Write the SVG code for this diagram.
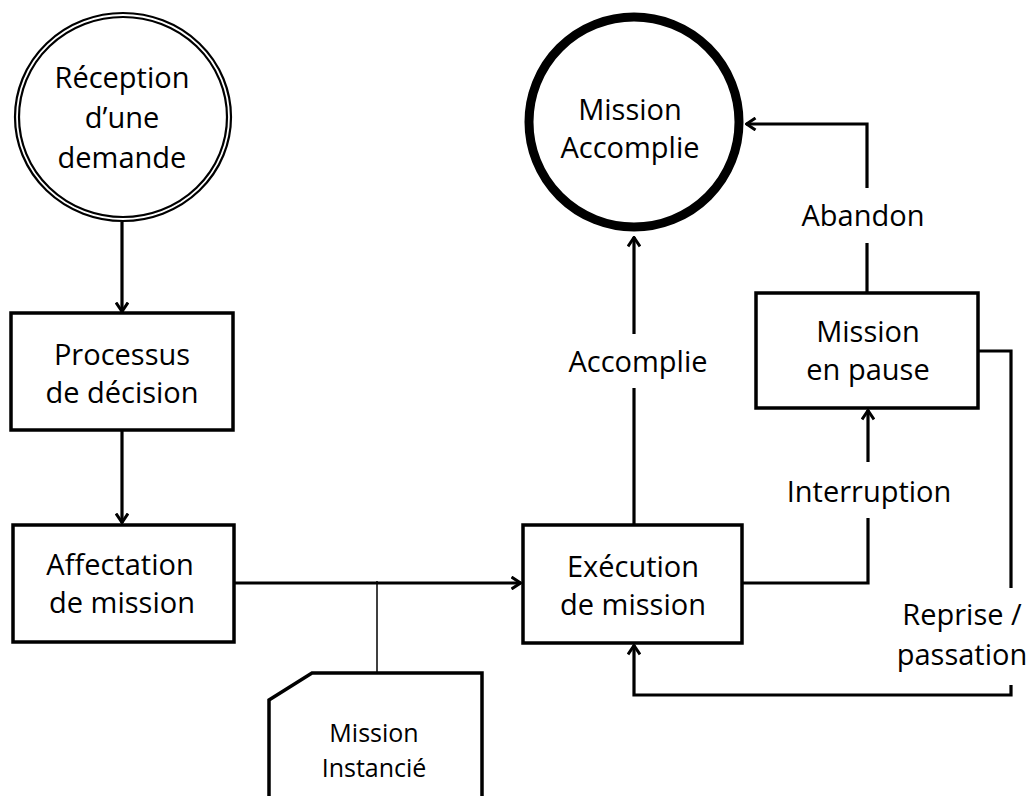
<svg xmlns="http://www.w3.org/2000/svg" width="1034" height="796" viewBox="0 0 1034 796">
<style>
.box{fill:#fff;stroke:#000;stroke-width:3.5}
.t{font-family:"Open Sans","Liberation Sans",sans-serif;font-size:29px;fill:#000;text-anchor:middle}
.ts{font-family:"Open Sans","Liberation Sans",sans-serif;font-size:25px;fill:#000;text-anchor:middle}
.c{fill:none;stroke:#000;stroke-width:3.2}
.thin{fill:none;stroke:#000;stroke-width:1.5}
</style>
<defs>
<marker id="arr" viewBox="0 0 12 14" markerWidth="12" markerHeight="14" refX="10.5" refY="7" orient="auto" markerUnits="userSpaceOnUse">
<path d="M1,1 L10,7 L1,13" fill="none" stroke="#000" stroke-width="3"/>
</marker>
</defs>
<rect width="1034" height="796" fill="#fff"/>
<g id="connectors">
<path class="c" d="M122,222 V312" marker-end="url(#arr)"/>
<path class="c" d="M122,431 V523" marker-end="url(#arr)"/>
<path class="c" d="M235,583 H521" marker-end="url(#arr)"/>
<path class="thin" d="M377,581 V676"/>
<path class="c" d="M634,524 V388"/>
<path class="c" d="M634,334 V237" marker-end="url(#arr)"/>
<path class="c" d="M867,292 V243"/>
<path class="c" d="M867,188 V124 H746" marker-end="url(#arr)"/>
<path class="c" d="M743,583 H868 V518"/>
<path class="c" d="M868,462 V410" marker-end="url(#arr)"/>
<path class="c" d="M979,351 H1011 V588"/>
<path class="c" d="M1011,685 V695 H634 V645" marker-end="url(#arr)"/>
<text class="t" x="638" y="372">Accomplie</text>
<text class="t" x="863" y="226">Abandon</text>
<text class="t" x="869" y="502">Interruption</text>
<text class="t" x="962" y="625">Reprise /</text>
<text class="t" x="962" y="665">passation</text>
</g>
<g id="reception">
<ellipse cx="123" cy="117" rx="108" ry="104" fill="#fff" stroke="#000" stroke-width="2.2"/>
<ellipse cx="123" cy="117" rx="104" ry="100" fill="none" stroke="#000" stroke-width="2.2"/>
<text class="t" x="122" y="88">Réception</text>
<text class="t" x="122" y="128">d’une</text>
<text class="t" x="122" y="168">demande</text>
</g>
<g id="processus">
<rect class="box" x="11" y="313" width="222" height="117"/>
<text class="t" x="122" y="365">Processus</text>
<text class="t" x="122" y="403">de décision</text>
</g>
<g id="affectation">
<rect class="box" x="13" y="525" width="221" height="117"/>
<text class="t" x="120" y="575">Affectation</text>
<text class="t" x="122" y="613">de mission</text>
</g>
<g id="execution">
<rect class="box" x="523" y="525" width="219" height="118"/>
<text class="t" x="633" y="577">Exécution</text>
<text class="t" x="633" y="615">de mission</text>
</g>
<g id="accomplie">
<circle cx="634" cy="122" r="105" fill="#fff" stroke="#000" stroke-width="9"/>
<text class="t" x="630" y="120">Mission</text>
<text class="t" x="630" y="158">Accomplie</text>
</g>
<g id="pause">
<rect class="box" x="756" y="293" width="222" height="115"/>
<text class="t" x="868" y="342">Mission</text>
<text class="t" x="868" y="380">en pause</text>
</g>
<g id="instancie">
<path class="box" d="M269,798 V700 L312,673 H482 V798"/>
<text class="ts" x="374" y="742">Mission</text>
<text class="ts" x="374" y="777">Instancié</text>
</g>
</svg>
